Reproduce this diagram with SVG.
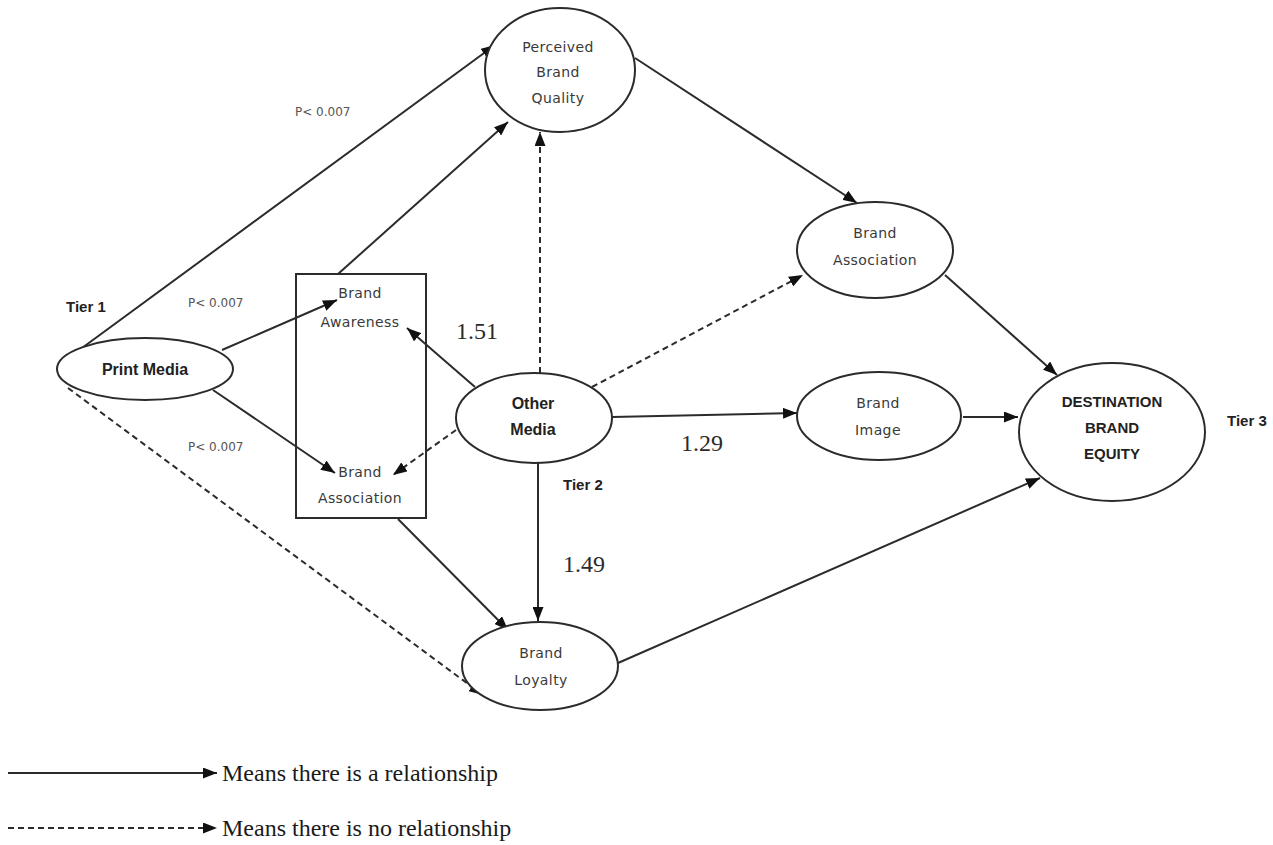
<svg xmlns="http://www.w3.org/2000/svg" width="1273" height="845" viewBox="0 0 1273 845">
  <style>
    .node { fill: #ffffff; stroke: #2b2b2b; stroke-width: 2; }
    .box { fill: none; stroke: #2b2b2b; stroke-width: 2; }
    .lbl { font-family: "DejaVu Sans", Verdana, sans-serif; font-size: 14px; letter-spacing: 0.4px; fill: #3a3a3a; text-anchor: middle; }
    .bold { font-family: "Liberation Sans", Arial, sans-serif; font-weight: bold; fill: #222222; text-anchor: middle; }
    .tier { font-family: "Liberation Sans", Arial, sans-serif; font-weight: bold; font-size: 15px; fill: #222222; }
    .pval { font-family: "DejaVu Sans", Verdana, sans-serif; font-size: 12px; fill: #555555; }
    .coef { font-family: "Liberation Serif", "Times New Roman", serif; font-size: 24px; fill: #2b2b2b; }
    .legend { font-family: "Liberation Serif", "Times New Roman", serif; font-size: 24px; fill: #1a1a1a; }
    .edge { fill: none; stroke: #2b2b2b; stroke-width: 2; marker-end: url(#arrow); }
    .dash { stroke-dasharray: 6 4; }
  </style>
  <defs>
    <marker id="arrow" viewBox="0 0 14 11" refX="14" refY="5.5" markerWidth="14" markerHeight="11" markerUnits="userSpaceOnUse" orient="auto">
      <path d="M0,0 L14,5.5 L0,11 Z" fill="#111111"/>
    </marker>
  </defs>

  <rect width="1273" height="845" fill="#ffffff"/>

  <!-- connectors -->
  <g id="connectors">
    <line class="edge" x1="82" y1="348" x2="495" y2="45"/>
    <line class="edge" x1="222" y1="350" x2="337" y2="300"/>
    <line class="edge" x1="213" y1="390" x2="335" y2="473"/>
    <line class="edge dash" x1="68" y1="388" x2="483" y2="695"/>
    <line class="edge" x1="338" y1="274" x2="508" y2="122"/>
    <line class="edge" x1="398" y1="519" x2="508" y2="630"/>
    <line class="edge" x1="475" y1="387" x2="407" y2="328"/>
    <line class="edge dash" x1="456" y1="430" x2="393" y2="475"/>
    <line class="edge dash" x1="540" y1="373" x2="540" y2="132"/>
    <line class="edge dash" x1="592" y1="387" x2="803" y2="275"/>
    <line class="edge" x1="612" y1="417" x2="797" y2="413"/>
    <line class="edge" x1="538" y1="463" x2="538" y2="621"/>
    <line class="edge" x1="635" y1="58" x2="857" y2="203"/>
    <line class="edge" x1="945" y1="275" x2="1057" y2="375"/>
    <line class="edge" x1="963" y1="417" x2="1018" y2="417"/>
    <line class="edge" x1="618" y1="663" x2="1040" y2="478"/>
  </g>

  <!-- tier 1 -->
  <g id="print-media">
    <ellipse class="node" cx="145" cy="369" rx="88" ry="31"/>
    <text class="bold" x="145" y="375" font-size="16">Print Media</text>
  </g>

  <!-- tier 2 -->
  <g id="brand-box">
    <rect class="box" x="296" y="274" width="130" height="244"/>
    <g id="brand-awareness">
      <text class="lbl" x="360" y="298">Brand</text>
      <text class="lbl" x="360" y="327">Awareness</text>
    </g>
    <g id="brand-association-inner">
      <text class="lbl" x="360" y="477">Brand</text>
      <text class="lbl" x="360" y="503">Association</text>
    </g>
  </g>

  <g id="perceived-brand-quality">
    <ellipse class="node" cx="560" cy="70" rx="75" ry="62"/>
    <text class="lbl" x="558" y="52">Perceived</text>
    <text class="lbl" x="558" y="77">Brand</text>
    <text class="lbl" x="558" y="103">Quality</text>
  </g>

  <g id="other-media">
    <ellipse class="node" cx="534" cy="418" rx="78" ry="45"/>
    <text class="bold" x="533" y="409" font-size="16">Other</text>
    <text class="bold" x="533" y="435" font-size="16">Media</text>
  </g>

  <g id="brand-loyalty">
    <ellipse class="node" cx="540" cy="666" rx="78" ry="44"/>
    <text class="lbl" x="541" y="658">Brand</text>
    <text class="lbl" x="541" y="685">Loyalty</text>
  </g>

  <g id="brand-association">
    <ellipse class="node" cx="875" cy="250" rx="78" ry="48"/>
    <text class="lbl" x="875" y="238">Brand</text>
    <text class="lbl" x="875" y="265">Association</text>
  </g>

  <g id="brand-image">
    <ellipse class="node" cx="879" cy="416" rx="82" ry="44"/>
    <text class="lbl" x="878" y="408">Brand</text>
    <text class="lbl" x="878" y="435">Image</text>
  </g>

  <!-- tier 3 -->
  <g id="destination-brand-equity">
    <ellipse class="node" cx="1112" cy="432" rx="93" ry="69"/>
    <text class="bold" x="1112" y="407" font-size="15">DESTINATION</text>
    <text class="bold" x="1112" y="433" font-size="15">BRAND</text>
    <text class="bold" x="1112" y="459" font-size="15">EQUITY</text>
  </g>

  <!-- tier and path labels -->
  <g id="labels">
    <text class="tier" x="66" y="312">Tier 1</text>
    <text class="tier" x="563" y="490">Tier 2</text>
    <text class="tier" x="1227" y="426">Tier 3</text>
    <text class="pval" x="295" y="116">P&lt; 0.007</text>
    <text class="pval" x="188" y="307">P&lt; 0.007</text>
    <text class="pval" x="188" y="451">P&lt; 0.007</text>
    <text class="coef" x="456" y="339">1.51</text>
    <text class="coef" x="681" y="451">1.29</text>
    <text class="coef" x="563" y="572">1.49</text>
  </g>

  <!-- legend -->
  <g id="legend">
    <line class="edge" x1="8" y1="773" x2="217" y2="773"/>
    <text class="legend" x="222" y="781">Means there is a relationship</text>
    <line class="edge dash" x1="8" y1="828" x2="217" y2="828"/>
    <text class="legend" x="222" y="836">Means there is no relationship</text>
  </g>
</svg>
